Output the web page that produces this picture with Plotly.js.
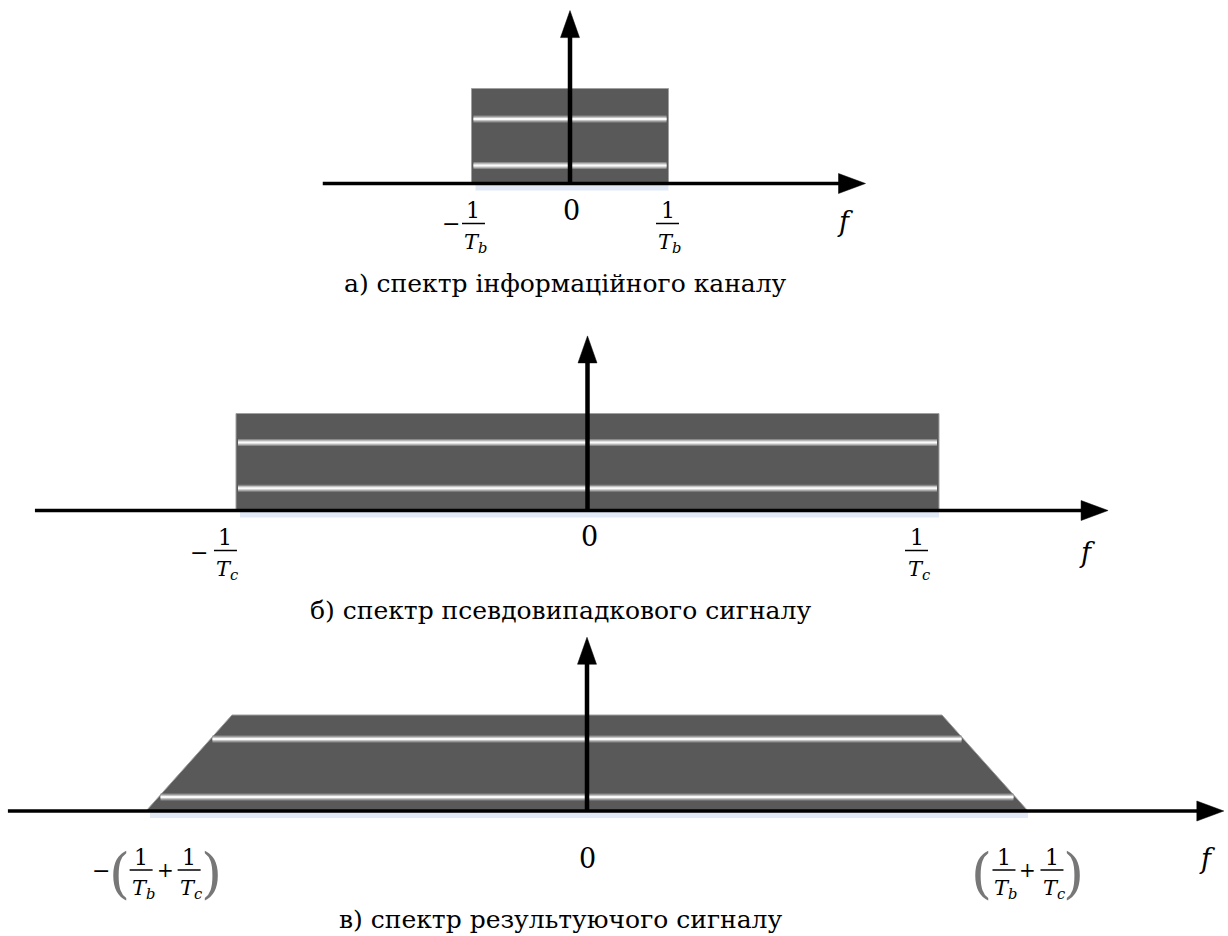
<!DOCTYPE html>
<html><head><meta charset="utf-8">
<script src="https://cdn.plot.ly/plotly-3.0.1.min.js"></script>
<style>html,body{margin:0;padding:0;background:#fff}</style>
</head><body><div id="chart" style="width:1228px;height:936px"></div>
<script>
// ---------------- data ----------------
const panelCaptions = ['а) спектр інформаційного каналу', 'б) спектр псевдовипадкового сигналу', 'в) спектр результуючого сигналу'];
// a) information channel spectrum, f in units of 1/Tb
const infoF = [-1, -1, 1, 1];
const infoS = [0, 1, 1, 0];
// b) pseudo-random signal spectrum, f in units of 1/Tc
const pnF = [-1, -1, 1, 1];
const pnS = [0, 1, 1, 0];
// c) resulting spectrum, f in units of 1/Tc
const invTc = 1.0, invTb = 0.108;
const resF = [-(invTc + invTb), -(invTc - invTb), invTc - invTb, invTc + invTb];
const resS = [0, 1, 1, 0];
// impulse (carrier) arrow heights
const impulseHeight = [1.82, 1.80, 1.81];
// extent of frequency axes
const axisExtent = [[-2.51, 3.0], [-1.572, 1.481], [-1.455, 1.60]];
// tick label positions (frequency) and texts
const tickPosA = [-0.98, 0.02, 0.99];
const tickPosB = [-1.03, 0.005, 0.936];
const tickPosC = [-1.06, 0.0, 1.108];
const subA = 'b', subB = 'c';
const fLabelPos = [2.79, 1.421, 1.558];
const stripeLevels = [[0.68, 0.19], [0.70, 0.23], [0.75, 0.146]];

// ---------------- layout helpers (pixel placement of each panel) ----------------
const W = 1228, H = 936;
const P = [
  {cx: 570, cy: 183.5, sx: 98.5, sy: 95},
  {cx: 587.5, cy: 510.5, sx: 351.5, sy: 97},
  {cx: 587, cy: 811, sx: 398, sy: 96}
];
const AX = ['x', 'x2', 'x3'], AY = ['y', 'y2', 'y3'];
const dX = (i, px) => px / P[i].sx;
const dY = (i, py) => py / P[i].sy;
const FONT = "'DejaVu Serif', serif";

const traces = [];
const annotations = [];
const shapes = [];

function line(i, x, y, color, width) {
  traces.push({x, y, mode: 'lines', line: {color, width}, xaxis: AX[i], yaxis: AY[i], hoverinfo: 'skip'});
}
function tri(i, x, y) {
  traces.push({x: x.concat([x[0]]), y: y.concat([y[0]]), mode: 'lines', fill: 'toself', fillcolor: '#000',
    line: {color: '#000', width: 0.5}, xaxis: AX[i], yaxis: AY[i], hoverinfo: 'skip'});
}
function spectrum(i, F, S) {
  line(i, [F[0] + dX(i, 4), F[3]], [-dY(i, 4), -dY(i, 4)], 'rgba(200,215,238,0.55)', 6);
  traces.push({x: F.concat([F[0]]), y: S.concat([S[0]]), mode: 'lines', fill: 'toself', fillcolor: '#595959',
    line: {color: '#a0a0a0', width: 1}, xaxis: AX[i], yaxis: AY[i], hoverinfo: 'skip'});
  stripeLevels[i].forEach(t => {
    const xl = F[0] + (F[1] - F[0]) * t + dX(i, 2);
    const xr = F[3] + (F[2] - F[3]) * t - dX(i, 2);
    const y = S[0] + (S[1] - S[0]) * t;
    line(i, [xl, xr], [y, y], '#8a8a8a', 7);
    line(i, [xl, xr], [y, y], '#c4c4c4', 4.5);
    line(i, [xl, xr], [y, y], '#fafafa', 2);
  });
}
function axes(i) {
  const L = 27, Wh = 10;
  const [e0, e1] = axisExtent[i];
  line(i, [e0, e1 - dX(i, L - 3)], [0, 0], '#000', 3.5);
  tri(i, [e1, e1 - dX(i, L), e1 - dX(i, L)], [0, dY(i, Wh), -dY(i, Wh)]);
  const h = impulseHeight[i];
  line(i, [0, 0], [0, h - dY(i, L - 3)], '#000', 4.5);
  tri(i, [0, -dX(i, 9.5), dX(i, 9.5)], [h, h - dY(i, L), h - dY(i, L)]);
}
function txt(i, x, xshift, dy, text, size, color) {
  annotations.push({xref: AX[i], yref: AY[i], x, y: 0, xshift, yshift: -dy, text, showarrow: false,
    xanchor: 'center', yanchor: 'middle', font: {family: FONT, size, color: color || '#000'}});
}
function fracBar(i, x, xshift, dy, half) {
  shapes.push({type: 'line', xref: AX[i], yref: AY[i], xsizemode: 'pixel', xanchor: x, x0: xshift - half, x1: xshift + half,
    ysizemode: 'pixel', yanchor: 0, y0: -dy, y1: -dy, line: {color: '#000', width: 1.5}});
}
function frac(i, x, xshift, sub, d) {
  txt(i, x, xshift, d.num, '1', 22);
  fracBar(i, x, xshift, d.bar, 11.5);
  txt(i, x, xshift + 2, d.den, '<i>T<sub>' + sub + '</sub></i>', 21);
}

// ---------------- build ----------------
spectrum(0, infoF, infoS);
spectrum(1, pnF, pnS);
spectrum(2, resF, resS);
[0, 1, 2].forEach(axes);

const dAB = {num: 27, bar: 40, den: 59};
// panel a
txt(0, tickPosA[0], -22, 40, '−', 22);
frac(0, tickPosA[0], 0, subA, dAB);
txt(0, tickPosA[1], 0, 27, '0', 27);
frac(0, tickPosA[2], 0, subA, dAB);
txt(0, fLabelPos[0], 0, 38, '<i>f</i>', 27);
// panel b
txt(1, tickPosB[0], -26, 42, '−', 22);
frac(1, tickPosB[0], 0, subB, dAB);
txt(1, tickPosB[1], 0, 26, '0', 27);
frac(1, tickPosB[2], 0, subB, dAB);
txt(1, fLabelPos[1], 0, 42, '<i>f</i>', 27);
// panel c
const dC = {num: 46, bar: 59, den: 78};
function sumLabel(x, neg) {
  if (neg) txt(2, x, -64, 59, '−', 22);
  txt(2, x, -46, 62, '(', 54, '#777');
  frac(2, x, -24, subA, dC);
  txt(2, x, 0, 59, '+', 20);
  frac(2, x, 24, subB, dC);
  txt(2, x, 46, 62, ')', 54, '#777');
}
sumLabel(tickPosC[0], true);
txt(2, tickPosC[1], 0, 47, '0', 27);
sumLabel(tickPosC[2], false);
txt(2, fLabelPos[2], 0, 47, '<i>f</i>', 27);

// captions
const capX = [565, 560, 560];
const capDy = [100, 100, 108];
panelCaptions.forEach((c, i) => {
  annotations.push({xref: 'paper', yref: AY[i], x: capX[i] / W, y: 0, yshift: -capDy[i], text: c, showarrow: false,
    xanchor: 'center', yanchor: 'middle', font: {family: FONT, size: 25, color: '#000'}});
});

const layout = {
  width: W, height: H, margin: {l: 0, r: 0, t: 0, b: 0},
  paper_bgcolor: '#fff', plot_bgcolor: 'rgba(0,0,0,0)', showlegend: false,
  font: {family: FONT},
  annotations, shapes
};
P.forEach((p, i) => {
  const k = i === 0 ? '' : String(i + 1);
  layout['xaxis' + k] = {domain: [0, 1], range: [-p.cx / p.sx, (W - p.cx) / p.sx], visible: false, fixedrange: true,
    anchor: AY[i]};
  layout['yaxis' + k] = {domain: [0, 1], range: [-(H - p.cy) / p.sy, p.cy / p.sy], visible: false, fixedrange: true,
    anchor: AX[i]};
});
Plotly.newPlot('chart', traces, layout, {displayModeBar: false, staticPlot: true});
</script></body></html>
